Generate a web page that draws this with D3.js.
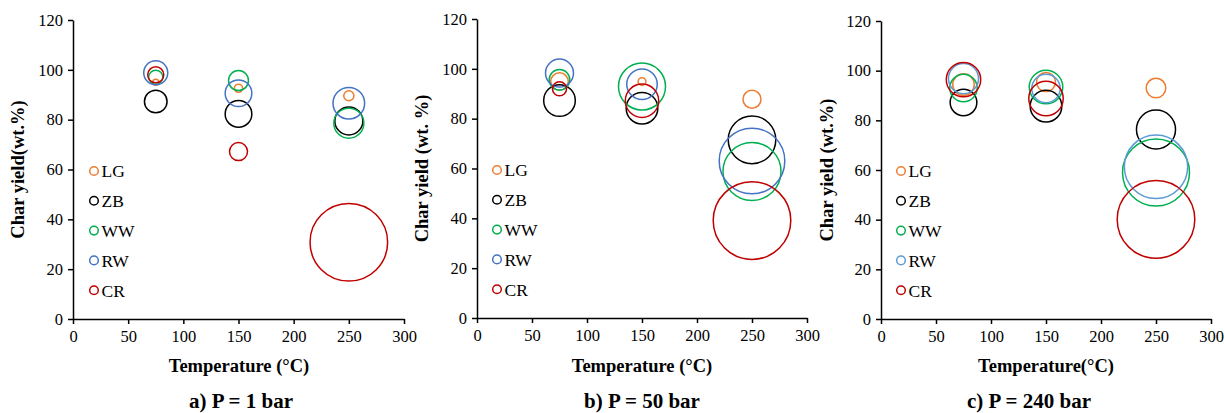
<!DOCTYPE html>
<html><head><meta charset="utf-8">
<script src="https://cdn.jsdelivr.net/npm/d3@7"></script>
<style>body{margin:0;background:#fff}svg{display:block}text{font-family:"Liberation Serif","Times New Roman",serif}</style>
</head><body><svg id="c" width="1225" height="413"></svg>
<script>
const temperatures = [75, 150, 250];
const seriesNames = ["LG", "ZB", "WW", "RW", "CR"];
const xTicks = [0, 50, 100, 150, 200, 250, 300];
const yTicks = [0, 20, 40, 60, 80, 100, 120];
// Char yield (wt.%) per series at 75/150/250 °C
const yieldA = { LG: [95, 92.6, 89.6], ZB: [87.3, 82.3, 79.5], WW: [97, 95.7, 78.6], RW: [98.8, 90.6, 86.6], CR: [98, 67.2, 30.8] };
const sizeA  = { LG: [0.6, 1.1, 1.7], ZB: [8.5, 11.8, 13], WW: [3.3, 6.6, 15], RW: [9.6, 11.8, 16.6], CR: [4.3, 5.4, 100] };
const yieldB = { LG: [94.9, 94.9, 87.8], ZB: [87.3, 84.2, 71.5], WW: [95.6, 92.9, 58.8], RW: [98.3, 93.8, 63], CR: [92, 87.2, 39.1] };
const sizeB  = { LG: [5.1, 1, 5.4], ZB: [16.6, 16.6, 37.6], WW: [7, 36.7, 55.9], RW: [13, 15.5, 71.5], CR: [3.3, 18.5, 100] };
const yieldC = { LG: [94.4, 95.4, 93], ZB: [87.2, 85.7, 76.3], WW: [93, 93.4, 59], RW: [96.8, 92.8, 61.3], CR: [96.4, 88.8, 40.1] };
const sizeC  = { LG: [7.7, 6, 6.4], ZB: [11.8, 16.6, 25.3], WW: [12.5, 18.7, 74.5], RW: [15, 13.4, 66.7], CR: [19.7, 19.7, 100] };
const yTitles = ["Char yield(wt.%)", "Char yield (wt. %)", "Char yield (wt.%)"];
const xTitles = ["Temperature (°C)", "Temperature (°C)", "Temperature(°C)"];
const captions = ["a) P = 1 bar", "b) P = 50 bar", "c) P = 240 bar"];

const colorsAB = { LG: "#ED7D31", ZB: "#000000", WW: "#00B050", RW: "#4472C4", CR: "#C00000" };
const colorsC  = { LG: "#ED7D31", ZB: "#000000", WW: "#00B050", RW: "#5B9BD5", CR: "#C00000" };

const panels = [
  { x0: 73, x1: 404, yTop: 20, yBot: 319, yv: yieldA, sz: sizeA, col: colorsAB, yt: 18, xtc: 239, capx: 241, legX: 94, legY: 171 },
  { x0: 477, x1: 807, yTop: 19, yBot: 318, yv: yieldB, sz: sizeB, col: colorsAB, yt: 422, xtc: 642, capx: 642, legX: 497, legY: 170 },
  { x0: 881, x1: 1211, yTop: 21, yBot: 319, yv: yieldC, sz: sizeC, col: colorsC, yt: 827, xtc: 1046, capx: 1029, legX: 901, legY: 171 }
];

const svg = d3.select("#c");
panels.forEach((p, i) => {
  const g = svg.append("g");
  const x = d3.scaleLinear().domain([0, 300]).range([p.x0, p.x1]);
  const y = d3.scaleLinear().domain([0, 120]).range([p.yBot, p.yTop]);
  const r = d3.scaleSqrt().domain([0, 100]).range([0, 38.8]);

  const ya = g.append("g").attr("transform", `translate(${p.x0},0)`)
    .call(d3.axisLeft(y).tickValues(yTicks).tickSize(5).tickPadding(5).tickSizeOuter(0));
  const xa = g.append("g").attr("transform", `translate(0,${p.yBot})`)
    .call(d3.axisBottom(x).tickValues(xTicks).tickSize(5).tickPadding(6).tickSizeOuter(0));
  [ya, xa].forEach(a => {
    a.selectAll("path,line").attr("stroke", "#000").attr("stroke-width", 1.5);
    a.selectAll("text").attr("font-size", 16.5).attr("fill", "#000").style("font-family", "'Liberation Serif',serif");
  });

  seriesNames.forEach(s => {
    g.append("g").selectAll("circle").data(temperatures.map((t, k) => ({ t, v: p.yv[s][k], z: p.sz[s][k] })))
      .join("circle")
      .attr("cx", d => x(d.t)).attr("cy", d => y(d.v)).attr("r", d => r(d.z))
      .attr("fill", "none").attr("stroke", p.col[s]).attr("stroke-width", 1.5);
  });

  seriesNames.forEach((s, k) => {
    const ly = p.legY + k * 29.8;
    g.append("circle").attr("cx", p.legX).attr("cy", ly).attr("r", 4.3)
      .attr("fill", "none").attr("stroke", p.col[s]).attr("stroke-width", 1.5);
    g.append("text").attr("x", p.legX + 7.5).attr("y", ly).attr("dy", "0.36em")
      .attr("font-size", 17.5).text(s);
  });

  g.append("text").attr("transform", `translate(${p.yt},${(p.yTop + p.yBot) / 2}) rotate(-90)`)
    .attr("text-anchor", "middle").attr("dy", "0.35em").attr("font-size", 18.5).attr("font-weight", "bold").text(yTitles[i]);
  g.append("text").attr("x", p.xtc).attr("y", 366).attr("dy", "0.35em")
    .attr("text-anchor", "middle").attr("font-size", 18.5).attr("font-weight", "bold").text(xTitles[i]);
  g.append("text").attr("x", p.capx).attr("y", 407.5)
    .attr("text-anchor", "middle").attr("font-size", 21).attr("font-weight", "bold").text(captions[i]);
});
</script></body></html>
